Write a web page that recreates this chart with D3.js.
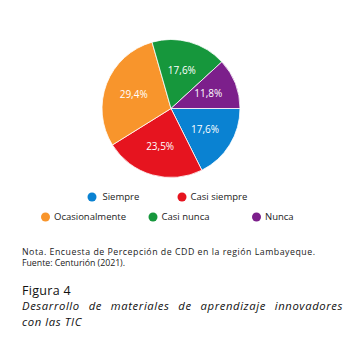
<!DOCTYPE html>
<html><head><meta charset="utf-8">
<script src="https://cdn.jsdelivr.net/npm/d3@7"></script>
<style>
html,body{margin:0;padding:0;background:#fff;}
svg{display:block;font-family:"Open Sans","Noto Sans",sans-serif;}
</style>
</head><body>
<svg id="c" width="351" height="338"></svg>
<script>
const categories = ["Siempre","Casi siempre","Ocasionalmente","Casi nunca","Nunca"];
const values = [17.6, 23.5, 29.4, 17.6, 11.8];
const labels = ["17,6%","23,5%","29,4%","17,6%","11,8%"];
const colors = ["#0a82d2","#e6141f","#f8952c","#16973c","#7c1f8b"];

const svg = d3.select("#c");
const cx = 171, cy = 108.5, r = 69;
const pie = d3.pie().sort(null).value(d=>d).startAngle(Math.PI/2).endAngle(Math.PI/2 + 2*Math.PI);
const arcs = pie(values);
const arc = d3.arc().innerRadius(0).outerRadius(r);
const labelArc = d3.arc().innerRadius(40).outerRadius(40);
const g = svg.append("g").attr("transform",`translate(${cx},${cy})`);
g.selectAll("path").data(arcs).join("path")
  .attr("d",arc).attr("fill",(d,i)=>colors[i])
  .attr("stroke","#fff").attr("stroke-width",0.8);
g.selectAll("text").data(arcs).join("text")
  .attr("transform",d=>`translate(${labelArc.centroid(d)})`)
  .attr("text-anchor","middle").attr("dy","0.35em")
  .attr("fill","#fff").attr("font-size",10)
  .text((d,i)=>labels[i]);

// legend
const legendPos = [[92,197],[182,197],[45.5,217],[153,217],[256.5,217]];
const lg = svg.append("g");
categories.forEach((c,i)=>{
  const [x,y] = legendPos[i];
  lg.append("circle").attr("cx",x).attr("cy",y).attr("r",4.5).attr("fill",colors[i]);
  lg.append("text").attr("x", x + (i===0?10.5:8.5)).attr("y",y).attr("dy","0.35em")
    .attr("font-size",9.5).attr("fill","#222").text(c);
});

// notes
svg.append("text").attr("x",22).attr("y",255).attr("font-size",8.8).attr("fill","#222")
  .attr("textLength",293).attr("lengthAdjust","spacing")
  .text("Nota. Encuesta de Percepción de CDD en la región Lambayeque.");
svg.append("text").attr("x",22).attr("y",266).attr("font-size",8.8).attr("fill","#222")
  .attr("textLength",103).attr("lengthAdjust","spacing")
  .text("Fuente: Centurión (2021).");
svg.append("text").attr("x",22).attr("y",295).attr("font-size",12.5).attr("fill","#111")
  .attr("font-weight",500).attr("letter-spacing",0.3)
  .text("Figura 4");
const t1 = svg.append("text").attr("x",22).attr("y",310).attr("font-size",11.3).attr("fill","#111")
  .attr("font-style","italic").attr("letter-spacing",0.6)
  .text("Desarrollo de materiales de aprendizaje innovadores");
const nat = t1.node().getComputedTextLength();
const spaces = 5;
t1.attr("word-spacing", Math.max(0,(321 - nat)/spaces));
svg.append("text").attr("x",22).attr("y",325.5).attr("font-size",11.3).attr("fill","#111")
  .attr("font-style","italic").attr("letter-spacing",0.6).text("con las TIC");
</script>
</body></html>
